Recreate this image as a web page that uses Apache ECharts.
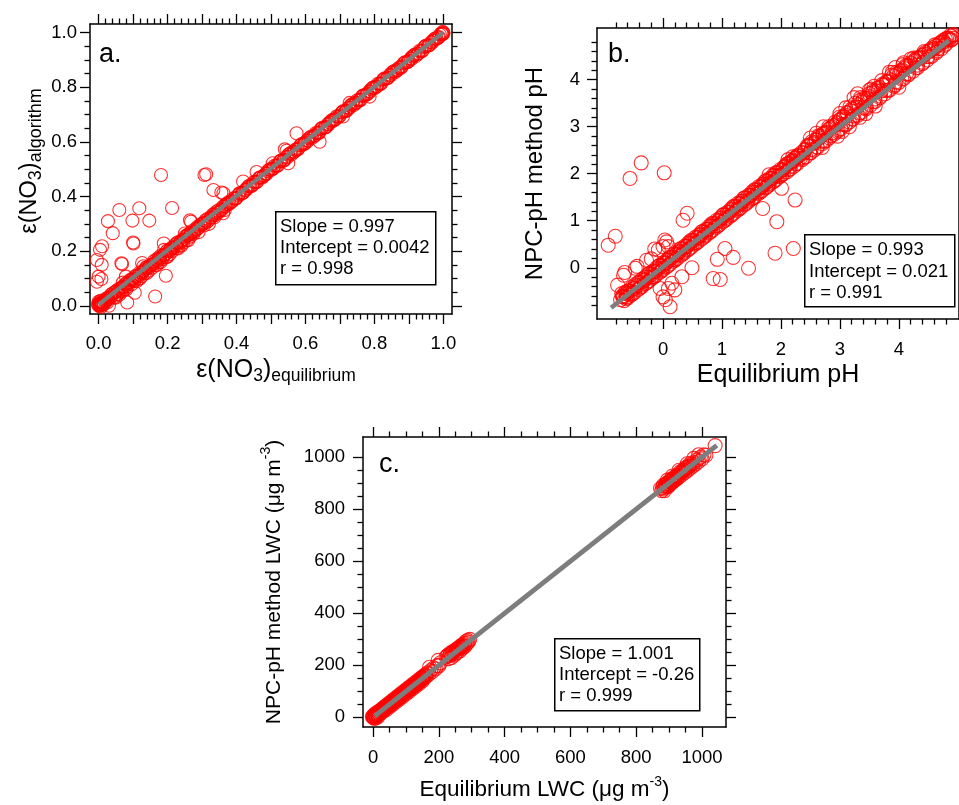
<!DOCTYPE html>
<html>
<head>
<meta charset="utf-8">
<script src="https://cdn.jsdelivr.net/npm/echarts@6/dist/echarts.min.js"></script>
<style>
  html, body { margin: 0; padding: 0; background: #fff; }
  #chart { width: 959px; height: 805px; }
</style>
</head>
<body>
<div id="chart"></div>
<script>
// ---- Panel a: nitrate partitioning, algorithm vs equilibrium ----
const nitrateBand = [
  [0,0],[0.002,0.004],[0.004,0.001],[0.001,0.008],[0.006,0.006],[0.003,0.012],[0.008,0.003],
  [0.01,0.01],[0.012,0.007],[0.0,0.015],[0.005,0.018],[0.015,0.012],[0.018,0.02],[0.02,0.014],
  [0.007,-0.004],[-0.002,0.005],[0.025,0.022],[0.028,0.03],[0.022,0.027],
  [0.035,0.031],[0.04,0.045],[0.046,0.036],[0.05,0.053],[0.055,0.043],[0.061,0.063],[0.066,0.051],
  [0.07,0.071],[0.076,0.061],[0.081,0.083],[0.085,0.071],[0.09,0.093],[0.096,0.079],[0.1,0.101],
  [0.104,0.091],[0.11,0.109],[0.116,0.099],[0.12,0.123],[0.125,0.108],[0.131,0.129],[0.134,0.119],
  [0.14,0.141],[0.146,0.129],[0.15,0.149],[0.156,0.139],[0.16,0.163],[0.166,0.149],[0.171,0.168],
  [0.175,0.159],[0.18,0.183],[0.186,0.171],[0.19,0.187],[0.196,0.179],[0.2,0.203],[0.206,0.189],
  [0.21,0.211],[0.214,0.201],[0.221,0.223],[0.226,0.211],[0.23,0.233],[0.236,0.221],[0.24,0.239],
  [0.246,0.231],[0.25,0.253],[0.256,0.241],[0.261,0.261],[0.266,0.254],[0.27,0.273],[0.276,0.264],
  [0.281,0.282],[0.29,0.286],[0.3,0.301],[0.306,0.294],[0.31,0.313],[0.32,0.314],[0.33,0.333],
  [0.336,0.324],[0.34,0.343],[0.35,0.344],[0.36,0.363],[0.366,0.351],[0.37,0.373],[0.38,0.375],
  [0.39,0.393],[0.4,0.395],[0.41,0.413],[0.42,0.415],[0.43,0.431],[0.44,0.437],[0.45,0.453],
  [0.46,0.455],[0.47,0.471],[0.48,0.477],[0.49,0.493],[0.5,0.497],[0.51,0.513],[0.52,0.515],
  [0.53,0.533],[0.54,0.535],[0.55,0.553],[0.56,0.555],[0.57,0.571],[0.58,0.577],[0.59,0.593],
  [0.6,0.597],[0.61,0.613],[0.62,0.615],[0.63,0.633],[0.64,0.635],[0.65,0.653],[0.66,0.655],
  [0.67,0.671],[0.68,0.677],[0.69,0.693],[0.7,0.697],[0.71,0.713],[0.72,0.715],[0.73,0.733],
  [0.74,0.735],[0.75,0.753],[0.76,0.755],[0.77,0.771],[0.78,0.777],[0.79,0.793],[0.8,0.797],
  [0.81,0.813],[0.82,0.815],[0.83,0.833],[0.84,0.835],[0.85,0.853],[0.86,0.855],[0.87,0.871],
  [0.88,0.877],[0.89,0.893],[0.9,0.897],[0.91,0.913],[0.92,0.915],[0.93,0.933],[0.94,0.935],
  [0.95,0.953],[0.96,0.955],[0.97,0.971],[0.98,0.977],[0.99,0.993],[0.995,0.996],[1.0,1.0],
  [0.998,1.003],[1.0,0.997],
  [0.005,0.0],[0.015,0.006],[0.025,0.012],[0.035,0.04],[0.045,0.03],[0.055,0.058],[0.065,0.058],
  [0.075,0.07],[0.085,0.078],[0.095,0.096],[0.105,0.098],[0.115,0.108],[0.125,0.12],[0.135,0.134],
  [0.145,0.138],[0.155,0.15],[0.165,0.158],[0.175,0.176],[0.185,0.178],[0.195,0.19],[0.205,0.2],
  [0.215,0.214],[0.225,0.218],[0.235,0.23],[0.245,0.24],[0.255,0.256],[0.265,0.26],[0.275,0.27],
  [0.285,0.28],[0.295,0.296],[0.305,0.302],[0.315,0.308],[0.325,0.322],[0.335,0.336],[0.345,0.34],
  [0.355,0.35],[0.365,0.366],[0.375,0.372],[0.385,0.38],[0.395,0.394],[0.405,0.406],[0.415,0.41],
  [0.425,0.424],[0.435,0.438],[0.445,0.44],[0.455,0.454],[0.465,0.468],[0.475,0.47],[0.485,0.484],
  [0.495,0.498],[0.505,0.502],[0.515,0.514],[0.525,0.528],[0.535,0.53],[0.545,0.546],[0.555,0.558],
  [0.565,0.562],[0.575,0.574],[0.585,0.588],[0.595,0.592],[0.605,0.606],[0.615,0.618],[0.625,0.622],
  [0.635,0.634],[0.645,0.648],[0.655,0.652],[0.665,0.666],[0.675,0.678],[0.685,0.682],[0.695,0.694],
  [0.705,0.708],[0.715,0.712],[0.725,0.726],[0.735,0.738],[0.745,0.742],[0.755,0.754],[0.765,0.768],
  [0.775,0.772],[0.785,0.786],[0.795,0.798],[0.805,0.802],[0.815,0.814],[0.825,0.828],[0.835,0.832],
  [0.845,0.846],[0.855,0.858],[0.865,0.862],[0.875,0.874],[0.885,0.888],[0.895,0.892],[0.905,0.906],
  [0.915,0.918],[0.925,0.922],[0.935,0.934],[0.945,0.948],[0.955,0.952],[0.965,0.966],[0.975,0.978],
  [0.985,0.982],[0.995,0.998],
  [0.05,0.03],[0.08,0.06],[0.11,0.09],[0.14,0.12],[0.17,0.15],[0.2,0.18],[0.23,0.21],[0.26,0.24],
  [0.29,0.27],[0.06,0.04],[0.12,0.1],[0.18,0.16],[0.24,0.22],[0.07,0.085],[0.13,0.145],[0.19,0.205],
  [0.25,0.265],
  [0.0075,0.012],[0.0175,0.02],[0.0275,0.024],[0.0375,0.036],[0.0475,0.05],[0.0575,0.052],
  [0.0675,0.066],[0.0775,0.08],[0.0875,0.084],[0.0975,0.092],[0.1075,0.11],[0.1175,0.114],
  [0.1275,0.124],[0.1375,0.14],[0.1475,0.144],[0.1575,0.152],[0.1675,0.17],[0.1775,0.172],
  [0.1875,0.184],[0.1975,0.2],[0.2075,0.204],[0.2175,0.212],[0.2275,0.23],[0.2375,0.234],
  [0.2475,0.244],[0.2575,0.26],[0.2675,0.264],[0.2775,0.272],[0.2875,0.29],[0.2975,0.294],
  [0.3075,0.304],[0.3175,0.32],[0.3275,0.324],[0.3375,0.332],[0.3475,0.35],[0.3575,0.354],
  [0.3675,0.364],[0.3775,0.38],[0.3875,0.384],[0.3975,0.392],[0.4075,0.41],[0.4175,0.414],
  [0.4275,0.424],[0.4375,0.44],[0.4475,0.444],[0.4575,0.452],[0.4675,0.47],[0.4775,0.474],
  [0.4875,0.484],[0.4975,0.5],[0.5075,0.504],[0.5175,0.512],[0.5275,0.53],[0.5375,0.534],
  [0.5475,0.544],[0.5575,0.56],[0.5675,0.564],[0.5775,0.572],[0.5875,0.59],[0.5975,0.594],
  [0.6075,0.604],[0.6175,0.62],[0.6275,0.624],[0.6375,0.632],[0.6475,0.65],[0.6575,0.654],
  [0.6675,0.664],[0.6775,0.68],[0.6875,0.684],[0.6975,0.692],[0.7075,0.71],[0.7175,0.714],
  [0.7275,0.724],[0.7375,0.74],[0.7475,0.744],[0.7575,0.752],[0.7675,0.77],[0.7775,0.774],
  [0.7875,0.784],[0.7975,0.8],[0.8075,0.804],[0.8175,0.812],[0.8275,0.83],[0.8375,0.834],
  [0.8475,0.844],[0.8575,0.86],[0.8675,0.864],[0.8775,0.872],[0.8875,0.89],[0.8975,0.894],
  [0.9075,0.904],[0.9175,0.92],[0.9275,0.924],[0.9375,0.932],[0.9475,0.95],[0.9575,0.954],
  [0.9675,0.964],[0.9775,0.98],[0.9875,0.984],[0.9975,0.994]
];
const nitrateScatter = [
  [0.181,0.479],[0.307,0.479],[0.312,0.482],[0.333,0.424],[0.356,0.415],[0.362,0.412],[0.361,0.339],
  [0.06,0.351],[0.118,0.357],[0.213,0.358],[0.027,0.31],[0.098,0.312],[0.147,0.312],[0.041,0.266],
  [0.265,0.313],[0.268,0.308],[0.004,0.205],[0.01,0.218],[0.1,0.232],[0.101,0.228],[0.189,0.228],
  [-0.005,0.168],[0.009,0.15],[0.066,0.156],[0.068,0.153],[0.126,0.157],[0.0,0.107],[-0.005,0.088],
  [0.008,0.098],[0.079,0.107],[0.195,0.11],[0.105,0.048],[0.083,0.012],[0.164,0.034],[0.03,0.0],
  [0.419,0.455],[0.54,0.573],[0.545,0.568],[0.574,0.632],[0.641,0.601],[0.55,0.522],[0.709,0.693],
  [0.728,0.743],[0.786,0.766],[0.32,0.3],[0.505,0.522],[0.458,0.49]
];
const nitrateFit = { slope: 0.997, intercept: 0.0042, r: 0.998, from: 0, to: 1.0 };

// ---- Panel b: aerosol pH ----
const phBand = [
  [-0.72,-0.68],[-0.68,-0.6],[-0.66,-0.7],[-0.62,-0.55],[-0.6,-0.64],[-0.56,-0.5],[-0.54,-0.58],
  [-0.5,-0.44],[-0.48,-0.52],[-0.44,-0.38],[-0.42,-0.46],[-0.38,-0.32],[-0.36,-0.4],[-0.32,-0.26],
  [-0.3,-0.34],[-0.26,-0.2],[-0.24,-0.28],[-0.2,-0.14],[-0.18,-0.22],[-0.14,-0.08],[-0.12,-0.16],
  [-0.08,-0.02],[-0.06,-0.1],[-0.02,0.04],[0.0,-0.04],[0.04,0.1],[0.06,0.02],[0.1,0.16],[0.12,0.08],
  [0.16,0.22],[0.18,0.14],[0.22,0.28],[0.24,0.2],[0.28,0.34],[0.3,0.26],[0.34,0.4],[0.36,0.32],
  [0.4,0.46],[0.42,0.38],[0.46,0.52],[0.48,0.44],[0.52,0.58],[0.54,0.5],[0.58,0.64],[0.6,0.56],
  [0.64,0.7],[0.66,0.62],[0.7,0.76],[0.72,0.68],[0.76,0.82],[0.78,0.74],[0.82,0.88],[0.84,0.8],
  [0.88,0.94],[0.9,0.86],[0.94,1.0],[0.96,0.92],[1.0,1.06],[1.02,0.98],[1.06,1.12],[1.08,1.04],
  [1.12,1.18],[1.14,1.1],[1.18,1.24],[1.2,1.16],[1.24,1.3],[1.26,1.22],[1.3,1.36],[1.32,1.28],
  [1.36,1.42],[1.38,1.34],[1.42,1.48],[1.44,1.4],[1.48,1.54],[1.5,1.46],[1.54,1.6],[1.56,1.52],
  [1.6,1.66],[1.62,1.58],[1.66,1.72],[1.68,1.64],[1.72,1.78],[1.74,1.7],[1.78,1.84],[1.8,1.76],
  [1.84,1.9],[1.86,1.82],[1.9,1.96],[1.92,1.88],[1.96,2.02],[1.98,1.94],[2.02,2.08],[2.04,2.0],
  [2.08,2.16],[2.1,2.04],[2.14,2.22],[2.16,2.1],[2.2,2.28],[2.22,2.16],[2.26,2.34],[2.28,2.22],
  [2.32,2.4],[2.36,2.3],[2.4,2.5],[2.42,2.36],[2.46,2.58],[2.5,2.44],[2.52,2.68],[2.56,2.5],
  [2.6,2.72],[2.62,2.56],[2.66,2.8],[2.7,2.64],[2.72,2.86],[2.76,2.7],[2.8,2.94],[2.82,2.76],
  [2.86,3.0],[2.9,2.84],[2.92,3.1],[2.96,2.9],[3.0,3.14],[3.02,2.96],[3.06,3.22],[3.1,3.04],
  [3.12,3.3],[3.16,3.1],[3.2,3.38],[3.22,3.16],[3.26,3.5],[3.3,3.24],[3.34,3.56],[3.36,3.3],
  [3.4,3.6],[3.44,3.38],[3.5,3.7],[3.52,3.46],[3.56,3.76],[3.6,3.54],[3.64,3.82],[3.68,3.62],
  [3.72,3.9],[3.76,3.7],[3.8,3.96],[3.84,3.78],[3.88,4.1],[3.92,3.86],[3.96,4.16],[4.0,3.94],
  [4.04,4.2],[4.08,4.02],[4.12,4.3],[4.16,4.1],[4.2,4.36],[4.24,4.18],[4.28,4.4],[4.32,4.26],
  [4.36,4.48],[4.4,4.34],[4.44,4.54],[4.48,4.42],[4.52,4.6],[4.56,4.5],[4.6,4.66],[4.64,4.58],
  [4.68,4.74],[4.72,4.66],[4.76,4.8],[4.8,4.76],[4.84,4.88],[4.88,4.84],[4.9,4.92],[4.92,4.88],
  [3.24,3.62],[3.3,3.7],[3.5,3.78],[3.58,3.86],[3.7,3.76],[3.84,4.16],[3.94,4.26],[4.08,4.36],
  [4.2,4.44],[4.3,4.46],[2.6,2.86],[2.72,3.0],[2.5,2.76],[3.0,3.28],[3.1,3.4],[3.16,3.0],
  [3.04,2.9],[3.34,3.2],[3.44,3.28],[3.6,3.44],[2.96,2.8],[2.2,2.36],[2.12,2.3],[1.8,1.98],
  [2.7,2.56],[4.0,3.84],
  [-0.69,-0.6],[-0.64,-0.52],[-0.59,-0.49],[-0.53,-0.42],[-0.47,-0.36],[-0.41,-0.31],[-0.35,-0.24],
  [-0.29,-0.19],[-0.23,-0.12],[-0.17,-0.07],[-0.11,0.0],[-0.05,0.05],[0.01,0.11],[0.07,0.17],
  [0.13,0.22],[0.19,0.29],[0.25,0.34],[0.31,0.41],[0.37,0.46],[0.43,0.53],[0.49,0.58],[0.55,0.65],
  [0.61,0.7],[0.67,0.77],[0.73,0.82],[0.79,0.89],[0.85,0.94],[0.91,1.01],[0.97,1.06],[1.03,1.13],
  [1.09,1.18],[1.15,1.25],[1.21,1.3],[1.27,1.37],[1.33,1.42],[1.39,1.49],[1.45,1.54],[1.51,1.61],
  [1.57,1.66],[1.63,1.73],[1.69,1.78],[1.75,1.85],[1.81,1.9],[1.87,1.97],[1.93,2.02],[1.99,2.09],
  [2.05,2.14],[2.11,2.21],[2.17,2.26],[2.23,2.33],[2.29,2.38],[2.35,2.45],[2.41,2.52],[2.47,2.6],
  [2.53,2.64],[2.59,2.72],[2.65,2.76],[2.71,2.84],[2.77,2.88],[2.83,2.96],[2.89,3.02],[2.95,3.08],
  [3.01,3.16],[3.07,3.2],[3.13,3.28],[3.19,3.34],[3.25,3.4],[3.31,3.47],[3.37,3.52],[3.43,3.6],
  [3.49,3.64],[3.55,3.72],[3.61,3.76],[3.67,3.84],[3.73,3.88],[3.79,3.96],[3.85,4.0],[3.91,4.08],
  [3.97,4.12],[4.03,4.18],[4.09,4.24],[4.15,4.3],[4.21,4.34],[4.27,4.42],[4.33,4.46],[4.39,4.52],
  [4.45,4.58],[4.51,4.62],[4.57,4.68],[4.63,4.72],[4.69,4.78],[4.75,4.84],[4.81,4.88],[4.87,4.94],
  [4.93,4.96],
  [-0.63,-0.66],[-0.51,-0.55],[-0.39,-0.43],[-0.27,-0.31],[-0.15,-0.19],[-0.03,-0.07],[0.09,0.05],
  [0.21,0.17],[0.33,0.29],[0.45,0.41],[0.57,0.53],[0.69,0.65],[0.81,0.77],[0.93,0.89],[1.05,1.01],
  [1.17,1.13],[1.29,1.25],[1.41,1.37],[1.53,1.49],[1.65,1.61],[1.77,1.73],[1.89,1.85],[2.01,1.97],
  [2.13,2.09],[2.25,2.21],[2.37,2.33],[2.49,2.45],[2.61,2.57],[2.73,2.69],[2.85,2.81],[2.97,2.93],
  [3.09,3.05],[3.21,3.17],[3.33,3.29],[3.45,3.41],[3.57,3.53],[3.69,3.65],[3.81,3.77],[3.93,3.89],
  [4.05,4.01],[4.17,4.13],[4.29,4.25],[4.41,4.37],[4.53,4.49],[4.65,4.61],[4.77,4.73],[4.89,4.85],
  [-0.67,-0.62],[-0.61,-0.5],[-0.55,-0.55],[-0.49,-0.44],[-0.43,-0.32],[-0.37,-0.37],[-0.31,-0.26],
  [-0.25,-0.14],[-0.19,-0.19],[-0.13,-0.08],[-0.07,0.04],[-0.01,-0.01],[0.05,0.1],[0.11,0.22],
  [0.17,0.17],[0.23,0.28],[0.29,0.4],[0.35,0.35],[0.41,0.46],[0.47,0.58],[0.53,0.53],[0.59,0.64],
  [0.65,0.76],[0.71,0.71],[0.77,0.82],[0.83,0.94],[0.89,0.89],[0.95,1.0],[1.01,1.12],[1.07,1.07],
  [1.13,1.18],[1.19,1.3],[1.25,1.25],[1.31,1.36],[1.37,1.48],[1.43,1.43],[1.49,1.54],[1.55,1.66],
  [1.61,1.61],[1.67,1.72],[1.73,1.84],[1.79,1.79],[1.85,1.9],[1.91,2.02],[1.97,1.97],[2.03,2.08],
  [2.09,2.2],[2.15,2.15],[2.21,2.26],[2.27,2.38],[2.33,2.33],[2.39,2.44],[2.45,2.6],[2.51,2.51],
  [2.57,2.66],[2.63,2.8],[2.69,2.69],[2.75,2.86],[2.81,3.0],[2.87,2.87],[2.93,3.04],[2.99,3.2],
  [3.05,3.05],[3.11,3.24],[3.17,3.42],[3.23,3.23],[3.29,3.42],[3.35,3.62],[3.41,3.41],[3.47,3.6],
  [3.53,3.8],[3.59,3.59],[3.65,3.78],[3.71,3.98],[3.77,3.77],[3.83,3.96],[3.89,4.16],[3.95,3.95],
  [4.01,4.14],[4.07,4.32],[4.13,4.13],[4.19,4.3],[4.25,4.46],[4.31,4.31],[4.37,4.46],[4.43,4.6],
  [4.49,4.49],[4.55,4.64],[4.61,4.74],[4.67,4.67],[4.73,4.8],[4.79,4.86],[4.85,4.85],[4.91,4.95]
];
const phScatter = [
  [-0.37,2.23],[-0.56,1.9],[0.02,2.02],[0.41,1.16],[0.34,1.01],[-0.81,0.67],[-0.93,0.48],
  [0.03,0.59],[0.06,0.55],[0.0,0.45],[-0.14,0.4],[0.09,0.45],[-0.08,0.38],[-0.28,0.16],
  [-0.2,0.19],[-0.47,-0.01],[-0.44,0.03],[-0.67,-0.16],[-0.65,-0.1],[-0.77,-0.37],[0.49,0.0],
  [0.32,-0.19],[0.15,-0.33],[0.2,-0.47],[0.09,-0.44],[-0.05,-0.44],[0.0,-0.62],[0.12,-0.83],
  [0.04,-0.68],[1.05,0.41],[1.19,0.22],[0.92,0.18],[1.45,-0.01],[0.85,-0.23],[0.97,-0.25],
  [1.9,0.31],[2.21,0.41],[1.93,0.98],[1.69,1.26],[2.24,1.44],[2.01,1.69],[-0.7,-0.55],[-0.62,-0.62]
];
const phFit = { slope: 0.993, intercept: 0.021, r: 0.991, from: -0.88, to: 4.85 };

// ---- Panel c: liquid water content ----
const lwcPoints = [
  [2,1],[5,3],[8,6],[3,8],[10,4],[12,12],[6,14],[15,10],[0,5],[18,16],[20,22],[14,20],[22,18],
  [25,26],[1,0],[9,-2],[4,-4],[-2,2],[11,8],[16,4],[7,10],[13,16],[19,12],[24,20],[26,30],[21,26],
  [28,30],[32,28],[36,38],[40,36],[44,46],[48,44],[52,54],[56,52],[60,62],[64,60],[68,70],[72,68],
  [76,78],[80,76],[84,86],[88,84],[92,94],[96,92],[100,102],[104,100],[108,110],[112,108],
  [116,118],[120,116],[124,126],[128,124],[132,134],[136,132],[140,142],[144,140],[148,150],
  [152,148],[156,158],[160,156],[165,170],[170,166],[175,180],[180,176],[185,190],[190,186],
  [196,200],[200,198],[205,210],[172,193],[198,219],
  [30,36],[34,32],[38,44],[42,40],[46,52],[50,48],[54,60],[58,56],[62,68],[66,64],[70,76],[74,72],
  [78,84],[82,80],[86,92],[90,88],[94,100],[98,96],[102,108],[106,104],[110,116],[114,112],
  [118,124],[122,120],[126,132],[130,128],[134,140],[138,136],[142,148],[146,144],[150,156],
  [154,152],[158,164],[162,160],[30,22],[40,30],[50,40],[60,50],[70,60],[80,70],[90,80],[100,90],
  [110,100],[120,110],[130,120],[140,130],[150,140],
  [222,232],[228,240],[232,236],[236,248],[240,244],[244,252],[248,240],[252,258],[256,250],
  [260,262],[264,256],[268,270],[272,266],[276,280],[280,274],[285,284],[290,290],[230,226],
  [238,230],[250,246],[262,268],[274,272],[226,236],[234,242],[242,250],[246,256],[254,262],
  [258,266],[266,274],[270,278],[278,284],[282,292],[288,296],[294,300],
  [880,884],[884,878],[888,892],[892,886],[896,900],[900,894],[904,908],[908,902],[912,916],
  [916,910],[920,924],[924,918],[928,932],[932,926],[936,940],[940,934],[944,948],[948,942],
  [952,956],[956,950],[960,964],[964,958],[968,972],[972,966],[976,980],[980,974],[985,990],
  [990,984],[995,1000],[1000,994],[1006,1010],[1012,1008],[1040,1045],[895,912],[910,928],
  [930,950],[955,975],[975,996],[990,1010],
  [882,892],[886,884],[890,898],[894,890],[898,906],[902,898],[906,914],[910,904],[914,922],
  [918,914],[922,930],[926,922],[934,944],[942,950],[950,960],[958,966],[966,978],[874,880],
  [878,872],[886,872],[898,888]
];
const lwcFit = { slope: 1.001, intercept: -0.26, r: 0.999, from: 5, to: 1045 };

// ---- Tick positions ----
const nitrateXMajor = [0, 0.1, 0.2, 0.3, 0.4, 0.5, 0.6, 0.7, 0.8, 0.9, 1.0];
const nitrateXLabels = [0, 0.2, 0.4, 0.6, 0.8, 1.0];
const nitrateYMajor = [0, 0.2, 0.4, 0.6, 0.8, 1.0];
const phMajor = [0, 1, 2, 3, 4];
const lwcMajor = [0, 200, 400, 600, 800, 1000];

const FONT = 'Liberation Sans, Arial, Helvetica, sans-serif';
const RED = '#ff0000';
const FIT_GRAY = '#7d7d7d';

function minorTicks(from, to, step, majors) {
  const out = [];
  const n0 = Math.round(from / step), n1 = Math.round(to / step);
  for (let i = n0; i <= n1; i++) {
    const v = +(i * step).toFixed(6);
    if (!majors.some(m => Math.abs(m - v) < 1e-9)) out.push(v);
  }
  return out;
}

const grids = [];
const xAxes = [];
const yAxes = [];
const series = [];

// One framed panel: a data grid with major ticks on all four sides,
// plus an overlaid grid of the same size carrying the shorter minor ticks.
function addPanel(p) {
  const rect = { left: p.rect[0], top: p.rect[1], width: p.rect[2], height: p.rect[3],
                 containLabel: false };
  const g = grids.length;
  grids.push(Object.assign({}, rect));
  grids.push(Object.assign({}, rect));

  const line = { show: true, onZero: false, lineStyle: { color: '#000', width: 1.5 } };
  const noLine = { show: false, onZero: false };
  const tickStyle = { color: '#000', width: 1.3 };
  const labelStyle = { fontSize: p.labelSize, fontFamily: FONT, color: '#000' };
  const major = vals => ({ show: true, inside: false, length: 10, customValues: vals, lineStyle: tickStyle });
  const minor = vals => ({ show: true, inside: false, length: 5.5, customValues: vals, lineStyle: tickStyle });

  const xi = xAxes.length, yi = yAxes.length;
  xAxes.push({
    type: 'value', gridIndex: g, position: 'bottom', min: p.x[0], max: p.x[1],
    axisLine: line, axisTick: major(p.xMajor),
    axisLabel: Object.assign({ show: true, customValues: p.xLabels, formatter: p.fmt, margin: p.xMargin }, labelStyle),
    splitLine: { show: false },
    name: p.xName, nameLocation: 'middle', nameGap: p.xNameGap, nameTextStyle: p.xNameStyle
  });
  xAxes.push({
    type: 'value', gridIndex: g, position: 'top', min: p.x[0], max: p.x[1],
    axisLine: line, axisTick: major(p.xMajor),
    axisLabel: { show: false }, splitLine: { show: false }
  });
  yAxes.push({
    type: 'value', gridIndex: g, position: 'left', min: p.y[0], max: p.y[1],
    axisLine: line, axisTick: major(p.yMajor),
    axisLabel: Object.assign({ show: true, customValues: p.yLabels, formatter: p.fmt, margin: p.yMargin }, labelStyle),
    splitLine: { show: false },
    name: p.yName, nameLocation: 'middle', nameGap: p.yNameGap, nameTextStyle: p.yNameStyle
  });
  yAxes.push({
    type: 'value', gridIndex: g, position: 'right', min: p.y[0], max: p.y[1],
    axisLine: line, axisTick: major(p.yMajor),
    axisLabel: { show: false }, splitLine: { show: false }
  });
  ['bottom', 'top'].forEach(pos => xAxes.push({
    type: 'value', gridIndex: g + 1, position: pos, min: p.x[0], max: p.x[1],
    axisLine: noLine, axisTick: minor(p.xMinor),
    axisLabel: { show: false }, splitLine: { show: false }
  }));
  ['left', 'right'].forEach(pos => yAxes.push({
    type: 'value', gridIndex: g + 1, position: pos, min: p.y[0], max: p.y[1],
    axisLine: noLine, axisTick: minor(p.yMinor),
    axisLabel: { show: false }, splitLine: { show: false }
  }));

  const scatterStyle = { color: 'rgba(0,0,0,0)', borderColor: RED, borderWidth: 1.1 };
  p.sets.forEach(d => series.push({
    type: 'scatter', xAxisIndex: xi, yAxisIndex: yi, data: d,
    symbol: 'circle', symbolSize: p.symbolSize, itemStyle: scatterStyle,
    silent: true, z: 2, animation: false
  }));
  const f = p.fit;
  series.push({
    type: 'line', xAxisIndex: xi, yAxisIndex: yi,
    data: [[f.from, f.slope * f.from + f.intercept], [f.to, f.slope * f.to + f.intercept]],
    symbol: 'none', lineStyle: { color: FIT_GRAY, width: p.fitWidth }, silent: true, z: 3,
    animation: false
  });
}

function subRich(main, sub, lh) {
  return {
    m: { fontSize: main, fontFamily: FONT, color: '#000', lineHeight: lh },
    s: { fontSize: sub, fontFamily: FONT, color: '#000', lineHeight: 15, verticalAlign: 'bottom' },
    p: { fontSize: sub - 3, fontFamily: FONT, color: '#000', lineHeight: 12, verticalAlign: 'top' }
  };
}

addPanel({
  rect: [90, 24, 362, 290],
  x: [-0.025, 1.025], y: [-0.03, 1.032],
  xMajor: nitrateXMajor, xLabels: nitrateXLabels, xMinor: minorTicks(0, 1, 0.02, nitrateXMajor),
  yMajor: nitrateYMajor, yLabels: nitrateYMajor, yMinor: minorTicks(0, 1, 0.05, nitrateYMajor),
  fmt: v => Number(v).toFixed(1), labelSize: 18.5, xMargin: 20, yMargin: 13,
  xName: '{m|ε(NO}{s|3}{m|)}{s|equilibrium}', xNameGap: 41,
  xNameStyle: { rich: subRich(25, 17.5, 30), padding: [0, 0, 0, 10] },
  yName: '{m|ε(NO}{s|3}{m|)}{s|algorithm}', yNameGap: 45,
  yNameStyle: { rich: subRich(23.5, 18, 30), padding: [0, 0, 0, 16] },
  sets: [nitrateBand, nitrateScatter], fit: nitrateFit, symbolSize: 13, fitWidth: 4
});

addPanel({
  rect: [597, 28, 362, 291],
  x: [-1.12, 5.02], y: [-1.09, 5.1],
  xMajor: phMajor, xLabels: phMajor, xMinor: minorTicks(-0.8, 4.8, 0.2, phMajor),
  yMajor: phMajor, yLabels: phMajor, yMinor: minorTicks(-0.8, 4.8, 0.2, phMajor),
  fmt: v => String(v), labelSize: 18.5, xMargin: 21, yMargin: 17,
  xName: '{m|Equilibrium pH}', xNameGap: 41,
  xNameStyle: { rich: subRich(25, 17, 30) },
  yName: '{m|NPC-pH method pH}', yNameGap: 47,
  yNameStyle: { rich: subRich(24, 17, 30) },
  sets: [phBand, phScatter], fit: phFit, symbolSize: 14, fitWidth: 4.5
});

addPanel({
  rect: [363, 437, 363, 290],
  x: [-30.5, 1073], y: [-37, 1078],
  xMajor: lwcMajor, xLabels: lwcMajor, xMinor: minorTicks(0, 1000, 50, lwcMajor),
  yMajor: lwcMajor, yLabels: lwcMajor, yMinor: minorTicks(0, 1000, 50, lwcMajor),
  fmt: v => String(v), labelSize: 18.5, xMargin: 21, yMargin: 18,
  xName: '{m|Equilibrium LWC (μg m}{p|-3}{m|)}', xNameGap: 48,
  xNameStyle: { rich: subRich(22.5, 17, 30) },
  yName: '{m|NPC-pH method LWC (μg m}{p|-3}{m|)}', yNameGap: 74,
  yNameStyle: { rich: subRich(21, 17, 30) },
  sets: [lwcPoints], fit: lwcFit, symbolSize: 14, fitWidth: 5
});

// Fit statistics boxes and panel letters
function statBox(x, y, w, h, fit, lh) {
  return [
    { type: 'rect', left: x, top: y, z: 100,
      shape: { width: w, height: h },
      style: { fill: '#fff', stroke: '#000', lineWidth: 1.5 } },
    { type: 'text', left: x + 5, top: y + 5, z: 101,
      style: {
        text: ['Slope = ' + fit.slope, 'Intercept = ' + fit.intercept, 'r = ' + fit.r].join('\n'),
        font: '18.5px ' + FONT, lineHeight: lh, fill: '#000'
      } }
  ];
}
function letter(t, x, y) {
  return { type: 'text', left: x, top: y, z: 101,
           style: { text: t, font: '27px ' + FONT, fill: '#000' } };
}

const graphics = []
  .concat(statBox(275, 211, 160, 73, nitrateFit, 21))
  .concat(statBox(804, 234, 150, 72, phFit, 21.7))
  .concat(statBox(554, 638, 145, 72, lwcFit, 21.3))
  .concat([letter('a.', 99, 41), letter('b.', 608, 41), letter('c.', 379, 451)]);

const chart = echarts.init(document.getElementById('chart'), null, { renderer: 'canvas' });
chart.setOption({
  animation: false,
  backgroundColor: '#fff',
  grid: grids,
  xAxis: xAxes,
  yAxis: yAxes,
  series: series,
  graphic: graphics
});
</script>
</body>
</html>
